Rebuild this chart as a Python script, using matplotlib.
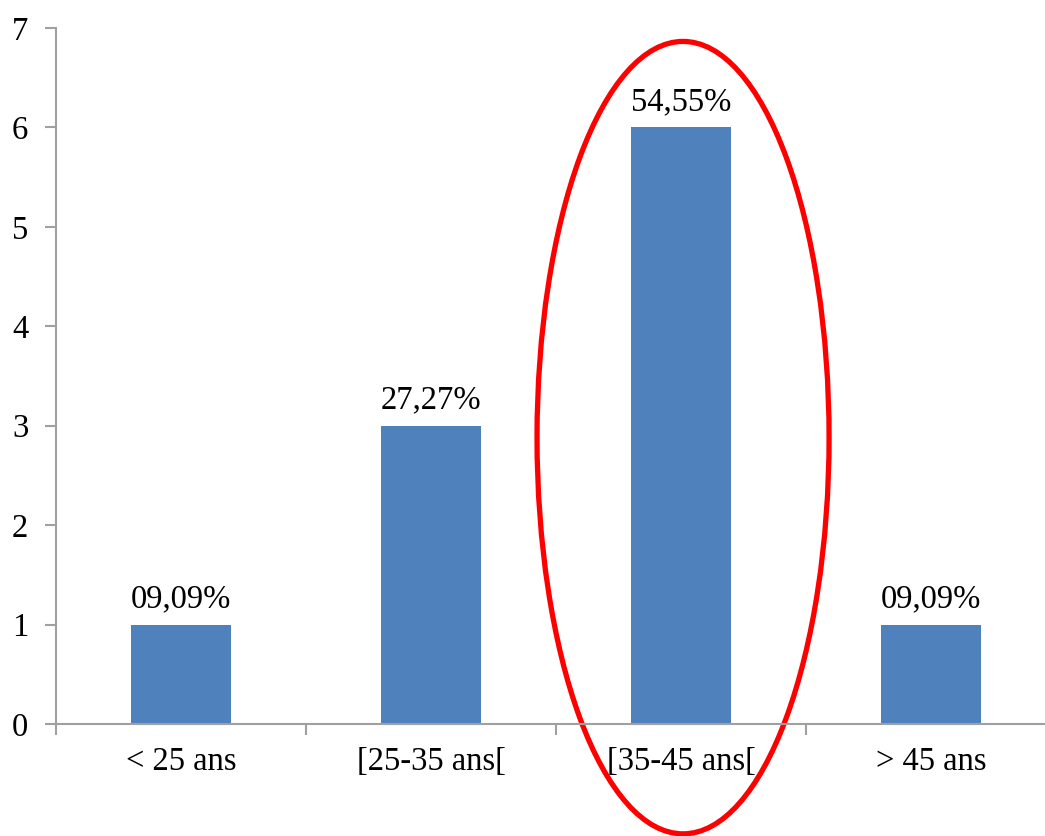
import matplotlib.pyplot as plt
from matplotlib.patches import Ellipse

# données
categories = ['< 25 ans', '[25-35 ans[', '[35-45 ans[', '> 45 ans']
effectifs = [1, 3, 6, 1]
pourcentages = ['09,09%', '27,27%', '54,55%', '09,09%']

plt.rcParams['font.family'] = ['Liberation Serif', 'DejaVu Serif']

fig = plt.figure(figsize=(10.45, 8.36), dpi=100)
ax = fig.add_axes([0.0536, 0.134, 0.957, 0.8325])

x = list(range(len(categories)))
ax.bar(x, effectifs, width=0.4, color='#4F81BD')

for i, (v, p) in enumerate(zip(effectifs, pourcentages)):
    ax.text(i, v + 0.1, p, ha='center', va='bottom', fontsize=23.5)

ax.set_xlim(-0.5, 3.5)
ax.set_ylim(0, 7)

# ticks aux limites des catégories, libellés au centre
ax.set_xticks([-0.5, 0.5, 1.5, 2.5, 3.5])
ax.set_xticklabels([])
ax.set_xticks(x, minor=True)
ax.set_xticklabels(categories, minor=True, fontsize=23.5)
ax.tick_params(axis='x', which='major', direction='out', length=8, color='#a0a0a0', width=1.5)
ax.tick_params(axis='x', which='minor', length=0, pad=16)
ax.set_yticks(range(8))
ax.tick_params(axis='y', direction='out', length=8, color='#a0a0a0', width=1.5, labelsize=23.5, pad=12)

for s in ['top', 'right']:
    ax.spines[s].set_visible(False)
for s in ['left', 'bottom']:
    ax.spines[s].set_color('#a0a0a0')
    ax.spines[s].set_linewidth(1.5)

# ellipse rouge autour de la classe [35-45 ans[
ell = Ellipse((2.008, 2.88), 1.168, 7.97, fill=False, edgecolor='#ff0000', linewidth=3.8, clip_on=False)
ax.add_patch(ell)

plt.savefig('out.png', dpi=100)
